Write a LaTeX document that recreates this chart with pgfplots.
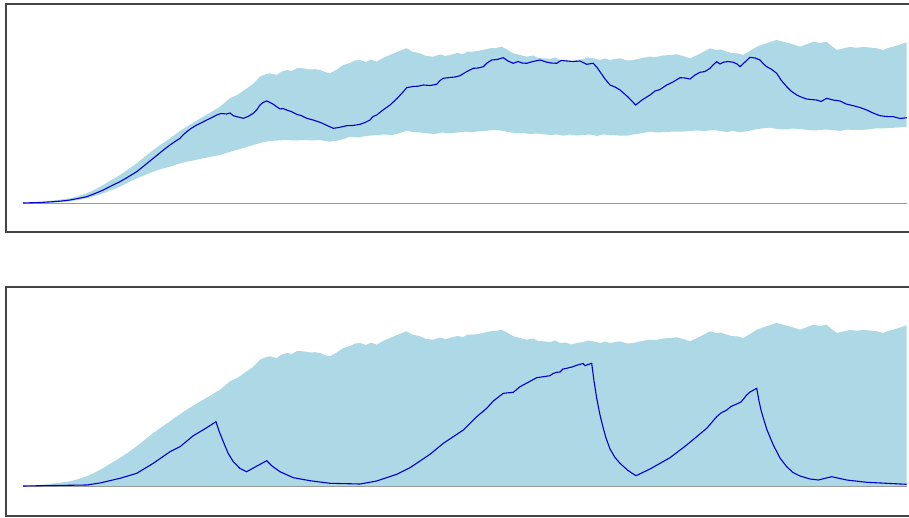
\documentclass[border=0pt]{standalone}
\usepackage{pgfplots}
\pgfplotsset{compat=1.18}
\usepackage{pgfplotstable}
\usepgfplotslibrary{fillbetween}
\definecolor{bandblue}{HTML}{ADD8E6}
\definecolor{lineblue}{HTML}{0000CD}
\definecolor{framegray}{HTML}{444444}
\definecolor{zerogray}{HTML}{999999}

\pgfplotstableread{
x y
23 0
30 0.3
40 1
50 2.2
60 3.3
70 4.7
78 6.8
86.7 9.7
95 13.5
103.3 18
111 22.8
120 28
128 33.5
136.7 39.7
145 46.5
153.3 53
161 58.5
170 64.7
178 70.5
186.7 76.3
195 81.5
203.3 86.3
211 90.8
220 96.3
225 100.5
230 104.7
238 108.5
246.7 114.7
253 119
260 126.3
265 128.5
270 129.7
276.7 128
281 131
286.7 133
292 132
297 135
303.3 134.7
310 133.5
315 133.8
320 133
325 131
330 129.7
336 133
343.3 138
350 140
355 142.5
360 143
366 141
371 143.5
376.7 141.3
383 145
390 148
397 151
402 153
406.7 154.7
412 151.5
420 149.7
426 147
433.3 146.3
440 148.5
445 147
450 148
457 150
463 149
468 151.5
473.3 151.3
480 152.5
485 153.5
490 154.7
496 155
501.7 156.3
507 153.5
513.3 149.7
520 148
526.7 146.3
533 147.5
538 145
543.3 144.7
550 144
555 145.5
560 143
566 143.5
571 141.5
576.7 143
583 144
588 145.5
593.3 144.7
600 143
605 144.5
610 143
615 144
620 144.7
627 142.5
633.3 143
640 144.5
645 145.5
650 146.3
656 146
663 147.5
670 148
676.7 148.7
683 147
690 144.7
696 147.5
703 151
710 154.7
716 153
721 153.5
726.7 151.3
732 150
738 149.5
743.3 148
750 152
756.7 156.3
763 158.5
770 161
776.7 163
782 161.5
788 160
795 158
800 156.3
806 158.5
813.3 161.3
820 160
826.7 161.3
831 157.5
836.7 153
843 154.5
850 156
856.7 155.3
863 156
870 155.5
876.7 154.7
883.3 153
888 155
893.3 156.3
900 158.5
906.7 160.7
}\upperband

\pgfplotstableread{
x y
23 0
40 0.1
55 0.5
70 1.5
78 3
86.7 4.7
95 7
103.3 9.7
111 12.8
120 16.3
128 20.5
136.7 24.7
145 28
153.3 31.3
161 34
170 36.3
178 39
186.7 41.3
195 43
203.3 44.7
211 46.3
220 48
228 50.5
236.7 53
245 55.5
253.3 58
262 60.5
270 62
278 62.5
286.7 63
295 62.5
303.3 63
312 62.5
320 63
325 62
330 61.3
338 62.5
345 64.5
350 66.3
358 65.5
366 67
376.7 68
385 68.5
392 67.8
400 70
406.7 72.3
413 71
420 70.5
426.7 69.7
435 69
442 70.5
450 69.7
458 70.5
465 71.5
470 70.7
477 71.5
485 72
493.3 73
500 72.5
508 71
516.7 69.7
523 70
530 69
537 69.5
543.3 68.7
550 68
557 68.5
563.3 67.3
570 68.5
577 67.5
583.3 68
590 68.5
597 67
603 68.5
610 68
618 67.5
626.7 67.3
633 68.5
640 69.5
650 71.3
658 70.5
666 71
675 71.5
683.3 71.3
690 72
697 72.5
705 72
713.3 73
720 72
727 71
733 72
740 70.7
748 72
755 73.5
762 74.5
770 75.3
777 74
785 73.5
792 74.5
800 74
808 73
815 72.5
825 73.5
833.3 73
840 72
847 73.5
853 73
860 73
867 73.5
875 74.5
883.3 74.7
890 75
898 75.5
906.7 76.3
}\lowerband

\pgfplotstableread{
x y
23 0
40 0.5
53.3 1.3
62 2
70 3
78 4.5
86.7 6.3
95 9.5
103.3 13
111 17
120 21.3
128 26
136.7 31.3
145 38
153.3 44.7
161 51
166 55
170 58
175 61.5
180 64.7
183 68
186.7 71.3
191 74.5
196.7 78
201 80
206.7 83
211 85
216.7 88
221 89.5
226.7 89
230 90
233.3 87.3
238 86
243.3 84.7
248 86.5
253.3 89.7
257 93.5
260 98
263 100.5
266.7 102
270 100.5
273.3 98.7
277 96
280 94
283 94.5
286.7 93
291 91.5
296.7 88.7
301 87.5
306.7 84.7
313 83
320 80.7
326 78
333.3 74.7
339 75.5
346.7 77.3
353 77.5
360 78.7
365 80.5
370 83
373 86.5
376.7 88
383 93
390 98
397 104.5
403 111
406.7 115.3
413 116.5
418 116.8
423.3 118
430 117.5
436.7 118.7
440 122.5
443.3 124.7
450 125.5
455 126
460 127.3
466 131
473.3 134.7
478 135
483.3 136.3
487 140
491.7 143
497 143.5
503.3 145.3
508 142
513.3 139.7
518 141.5
522 140
526.7 139.7
533 141.5
540 143
546 141
551 140
556.7 139.7
561 142.5
566.7 142
573 141.5
580 142
583 140.5
586.7 138.7
593.3 139.7
597 135.5
600 131.3
605 124
610 118
615 116
620 113
628 106
635.7 98
642 103
650 108
655 112
660 113.5
666.7 118
673 121
680 125.3
685 125
690 124
695 128
700 130.7
705 131.5
710 134.7
713 138
716.7 141.3
720 139
723.3 140.7
728 141.5
733.3 140.7
737 139
740 136.3
745 141
750 145.7
755 145
760 143
763 139.5
766.7 136.3
771 134
776.7 129.7
781 123
786.7 116.3
791 112
796.7 108
801 106
806.7 104
811 103.5
816.7 103
821 101.5
826.7 104.7
833 103
840 102
846 99
853.3 97.3
860 95.5
866.7 93
873 90
880 87.3
886 86.5
893.3 86.3
900 84.5
906.7 85.3
}\toplinedata

\pgfplotstableread{
x y
23 0
86.7 1
100 3
120 7.7
136.7 12.7
153.3 22.7
170 34.3
180 39.3
193.3 50.3
206.7 58.3
216 64.3
219 55
223.3 44.3
228 33
233.3 24.3
240 17.5
246.7 14.3
256 19.5
266.7 25.3
272 20
280 14.3
293.3 8.3
310 5.3
330 2.7
360 2
376.7 5
396.7 11.7
410 18.3
430 31.7
443.3 42.7
463.3 56
476.7 69.3
486.7 77.7
493.3 85
503.3 92.7
513.3 93.7
520 99.3
536.7 108.3
550 110.3
553 112.5
556.7 113.7
560 114
563 117
566.7 117.7
572 119
576 120.5
580 121.7
583 122.5
585 120.3
588 121.5
591.7 122.7
594 105
596.7 87.7
600 71
603.3 57.7
606 48
610 37
615 28.5
620 22.7
628 15.5
636 10.3
650 17
670 28.3
686.7 41
706.7 57.7
716.7 69.3
721 73
726.7 76
731 79.5
736.7 82
741 84
746.7 91
750 94
756.7 97.7
759 85
761 76
763.3 68
767 56
773.3 41
780 28
786.7 19.3
793 13.5
800 10
810 7
818.3 6
831.7 9.3
846.7 6
866.7 3.7
906.7 1.7
}\bottomlinedata

\begin{document}
\begin{tikzpicture}[x=1pt,y=1pt]
\pgfplotsset{panel/.style={scale only axis, width=918pt, xmin=6, xmax=924,
  xtick=\empty, ytick=\empty,
  axis line style={draw=framegray, line width=1.4pt}}}
\begin{axis}[panel, at={(6pt,285pt)}, anchor=south west, height=228pt, ymin=-29, ymax=199]
  \addplot[draw=none, name path=U] table {\upperband};
  \addplot[draw=none, name path=L] table {\lowerband};
  \addplot[bandblue] fill between[of=U and L];
  \addplot[zerogray, line width=0.8pt] coordinates {(23,0) (907,0)};
  \addplot[lineblue, line width=1.1pt] table {\toplinedata};
\end{axis}
\begin{axis}[panel, at={(6pt,1pt)}, anchor=south west, height=229pt, ymin=-30, ymax=199]
  \addplot[fill=bandblue, draw=none] table {\upperband} \closedcycle;
  \addplot[zerogray, line width=0.8pt] coordinates {(23,0) (907,0)};
  \addplot[lineblue, line width=1.1pt] table {\bottomlinedata};
\end{axis}
\pgfresetboundingbox
\useasboundingbox (0,0) rectangle (909pt,517pt);
\end{tikzpicture}
\end{document}
